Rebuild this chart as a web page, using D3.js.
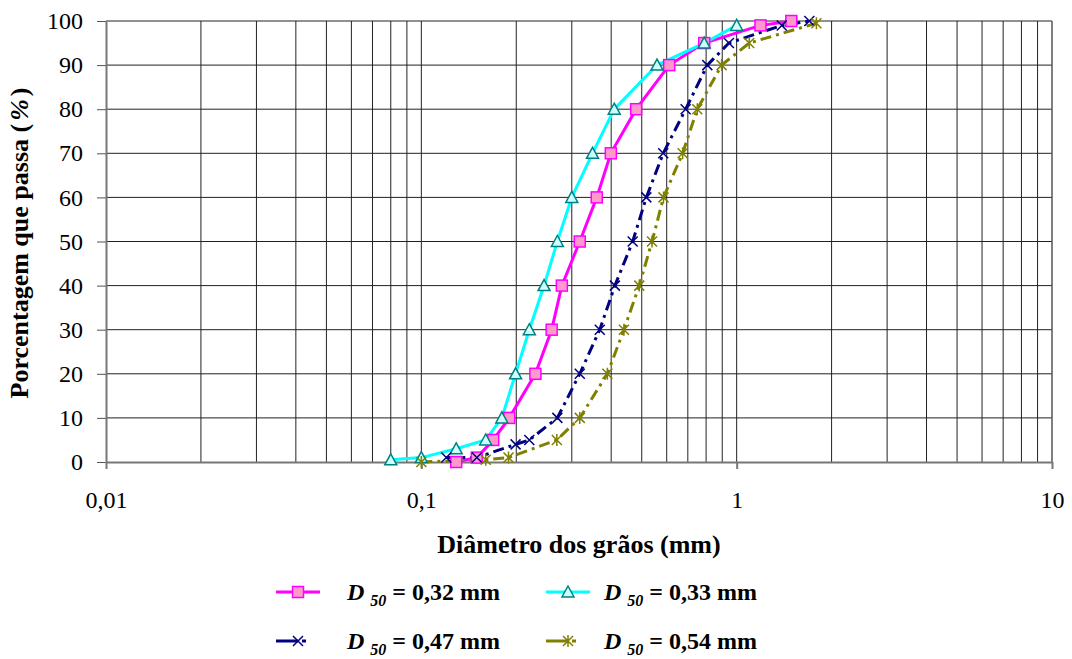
<!DOCTYPE html>
<html>
<head>
<meta charset="utf-8">
<script src="https://cdn.jsdelivr.net/npm/d3@7"></script>
<style>
  body { margin: 0; background: #fff; }
</style>
</head>
<body>
<script>
// grain size curves, diameter in mm vs % passing
var dPink = [0.129, 0.15, 0.169, 0.19, 0.23, 0.259, 0.279, 0.318, 0.36, 0.399, 0.48, 0.611, 0.789, 1.19, 1.49];
var pPink = [0, 1, 5, 10, 20, 30, 40, 50, 60, 70, 80, 90, 95, 99, 100];

var dCyan = [0.08, 0.1, 0.129, 0.16, 0.18, 0.199, 0.22, 0.245, 0.27, 0.3, 0.349, 0.409, 0.559, 0.789, 1.0];
var pCyan = [0.5, 1, 3, 5, 10, 20, 30, 40, 50, 60, 70, 80, 90, 95, 99];

var dNavy = [0.12, 0.15, 0.199, 0.22, 0.27, 0.318, 0.368, 0.411, 0.468, 0.517, 0.585, 0.689, 0.807, 0.945, 1.39, 1.7];
var pNavy = [1, 1, 4, 5, 10, 20, 30, 40, 50, 60, 70, 80, 90, 95, 99, 100];

var dOlive = [0.1, 0.16, 0.189, 0.269, 0.318, 0.389, 0.439, 0.491, 0.539, 0.586, 0.674, 0.75, 0.896, 1.096, 1.79];
var pOlive = [0, 0.5, 1, 5, 10, 20, 30, 40, 50, 60, 70, 80, 90, 95, 99.5];

var seriesNames = ["0,32 mm", "0,33 mm", "0,47 mm", "0,54 mm"];
var xTickVals = [0.01, 0.1, 1, 10];
var xTickLabels = ["0,01", "0,1", "1", "10"];
var yTicks = [0, 10, 20, 30, 40, 50, 60, 70, 80, 90, 100];

var w = 1072, h = 659;
var FONT = "'Liberation Serif'";
var svg = d3.select("body").append("svg").attr("width", w).attr("height", h)
    .style("font-family", FONT);

var x = d3.scaleLog().domain([0.01, 10]).range([106, 1052]);
var y = d3.scaleLinear().domain([0, 100]).range([462, 21]);

// grid
var minor = [];
[0.01, 0.1, 1].forEach(function (b) {
    for (var k = 2; k <= 9; k++) minor.push(b * k);
});
minor.push(0.1, 1);
svg.append("g").selectAll("line").data(minor).enter().append("line")
    .attr("x1", d => x(d)).attr("x2", d => x(d))
    .attr("y1", y(100)).attr("y2", y(0))
    .attr("stroke", "#222").attr("stroke-width", 1);
svg.append("g").selectAll("line").data(yTicks.slice(1)).enter().append("line")
    .attr("x1", x(0.01)).attr("x2", x(10))
    .attr("y1", d => y(d)).attr("y2", d => y(d))
    .attr("stroke", "#222").attr("stroke-width", 1);
svg.append("line").attr("x1", x(10)).attr("x2", x(10)).attr("y1", y(100)).attr("y2", y(0))
    .attr("stroke", "#555").attr("stroke-width", 1.5);

// axes
var yAxis = d3.axisLeft(y).tickValues(yTicks).tickSize(9).tickSizeOuter(0).tickPadding(14);
var gy = svg.append("g").attr("transform", "translate(" + x(0.01) + ",0)").call(yAxis);
gy.attr("font-family", null);
gy.select(".domain").attr("stroke", "#777").attr("stroke-width", 2);
gy.selectAll(".tick line").attr("stroke", "#555");
gy.selectAll("text").style("font-family", FONT).style("font-size", "24px").attr("fill", "#000");

var xAxis = d3.axisBottom(x).tickValues(xTickVals).tickFormat((d, i) => xTickLabels[i]).tickSize(7).tickSizeOuter(0).tickPadding(22);
var gx = svg.append("g").attr("transform", "translate(0," + y(0) + ")").call(xAxis);
gx.attr("font-family", null);
gx.select(".domain").attr("stroke", "#777").attr("stroke-width", 2);
gx.selectAll(".tick line").attr("stroke", "#777").attr("stroke-width", 2);
gx.selectAll("text").style("font-family", FONT).style("font-size", "24px").attr("fill", "#000");

// titles
svg.append("text").attr("x", 579).attr("y", 553).attr("text-anchor", "middle")
    .style("font-family", FONT).style("font-size", "26px").style("font-weight", "bold").text("Diâmetro dos grãos (mm)");
var yt = svg.append("text").attr("transform", "translate(28,243) rotate(-90)").attr("text-anchor", "middle")
    .style("font-family", FONT).style("font-size", "26px").style("font-weight", "bold");
yt.append("tspan").text("Porcentagem que passa (");
yt.append("tspan").style("font-style", "italic").attr("dx", 3).text("%");
yt.append("tspan").attr("dx", 3).text(")");

var series = [
    { d: dPink, p: pPink, color: "#ff00ff", dash: null, marker: "square" },
    { d: dCyan, p: pCyan, color: "#00ffff", dash: null, marker: "triangle" },
    { d: dNavy, p: pNavy, color: "#000080", dash: "11,5,3,5", marker: "x" },
    { d: dOlive, p: pOlive, color: "#808000", dash: "11,5,3,5", marker: "star" }
];

function drawMarker(g, type, cx, cy) {
    if (type == "square") {
        g.append("rect").attr("x", cx - 5.5).attr("y", cy - 5.5).attr("width", 11).attr("height", 11)
            .attr("fill", "#ff99cc").attr("stroke", "#ff00ff").attr("stroke-width", 1.5);
    } else if (type == "triangle") {
        g.append("path").attr("d", "M" + cx + "," + (cy - 6) + "L" + (cx + 6) + "," + (cy + 5) + "L" + (cx - 6) + "," + (cy + 5) + "Z")
            .attr("fill", "#ccffff").attr("stroke", "#008080").attr("stroke-width", 1.5);
    } else if (type == "x") {
        g.append("path").attr("d", "M" + (cx - 5) + "," + (cy - 5) + "L" + (cx + 5) + "," + (cy + 5) + "M" + (cx + 5) + "," + (cy - 5) + "L" + (cx - 5) + "," + (cy + 5))
            .attr("stroke", "#000080").attr("stroke-width", 1.5).attr("fill", "none");
    } else {
        g.append("path").attr("d", "M" + (cx - 5) + "," + (cy - 5) + "L" + (cx + 5) + "," + (cy + 5) + "M" + (cx + 5) + "," + (cy - 5) + "L" + (cx - 5) + "," + (cy + 5) + "M" + cx + "," + (cy - 6) + "L" + cx + "," + (cy + 6))
            .attr("stroke", "#808000").attr("stroke-width", 1.5).attr("fill", "none");
    }
}

var line = d3.line().x(d => x(d[0])).y(d => y(d[1]));
series.forEach(function (s) {
    var pts = s.d.map((d, i) => [d, s.p[i]]);
    svg.append("path").datum(pts).attr("d", line)
        .attr("fill", "none").attr("stroke", s.color).attr("stroke-width", 3)
        .attr("stroke-dasharray", s.dash);
});
series.forEach(function (s) {
    var g = svg.append("g");
    s.d.forEach((d, i) => drawMarker(g, s.marker, x(d), y(s.p[i])));
});

// legend
var legPos = [[276, 592], [546, 592], [276, 641], [546, 641]];
series.forEach(function (s, i) {
    var lx = legPos[i][0], ly = legPos[i][1];
    var g = svg.append("g");
    var len = s.dash ? 34 : 44;
    g.append("line").attr("x1", lx).attr("x2", lx + len).attr("y1", ly).attr("y2", ly)
        .attr("stroke", s.color).attr("stroke-width", 3).attr("stroke-dasharray", s.dash ? "22,4,4" : null);
    drawMarker(g, s.marker, lx + 22, ly);
    var t = g.append("text").attr("x", i % 2 == 0 ? 347 : 604).attr("y", ly + 8)
        .style("font-family", FONT).style("font-size", "24px").style("font-weight", "bold");
    t.append("tspan").style("font-style", "italic").text("D");
    t.append("tspan").style("font-style", "italic").style("font-size", "16px").attr("dx", 6).attr("dy", 6).text("50");
    t.append("tspan").attr("dx", 6).attr("dy", -6).text("= " + seriesNames[i]);
});
</script>
</body>
</html>
